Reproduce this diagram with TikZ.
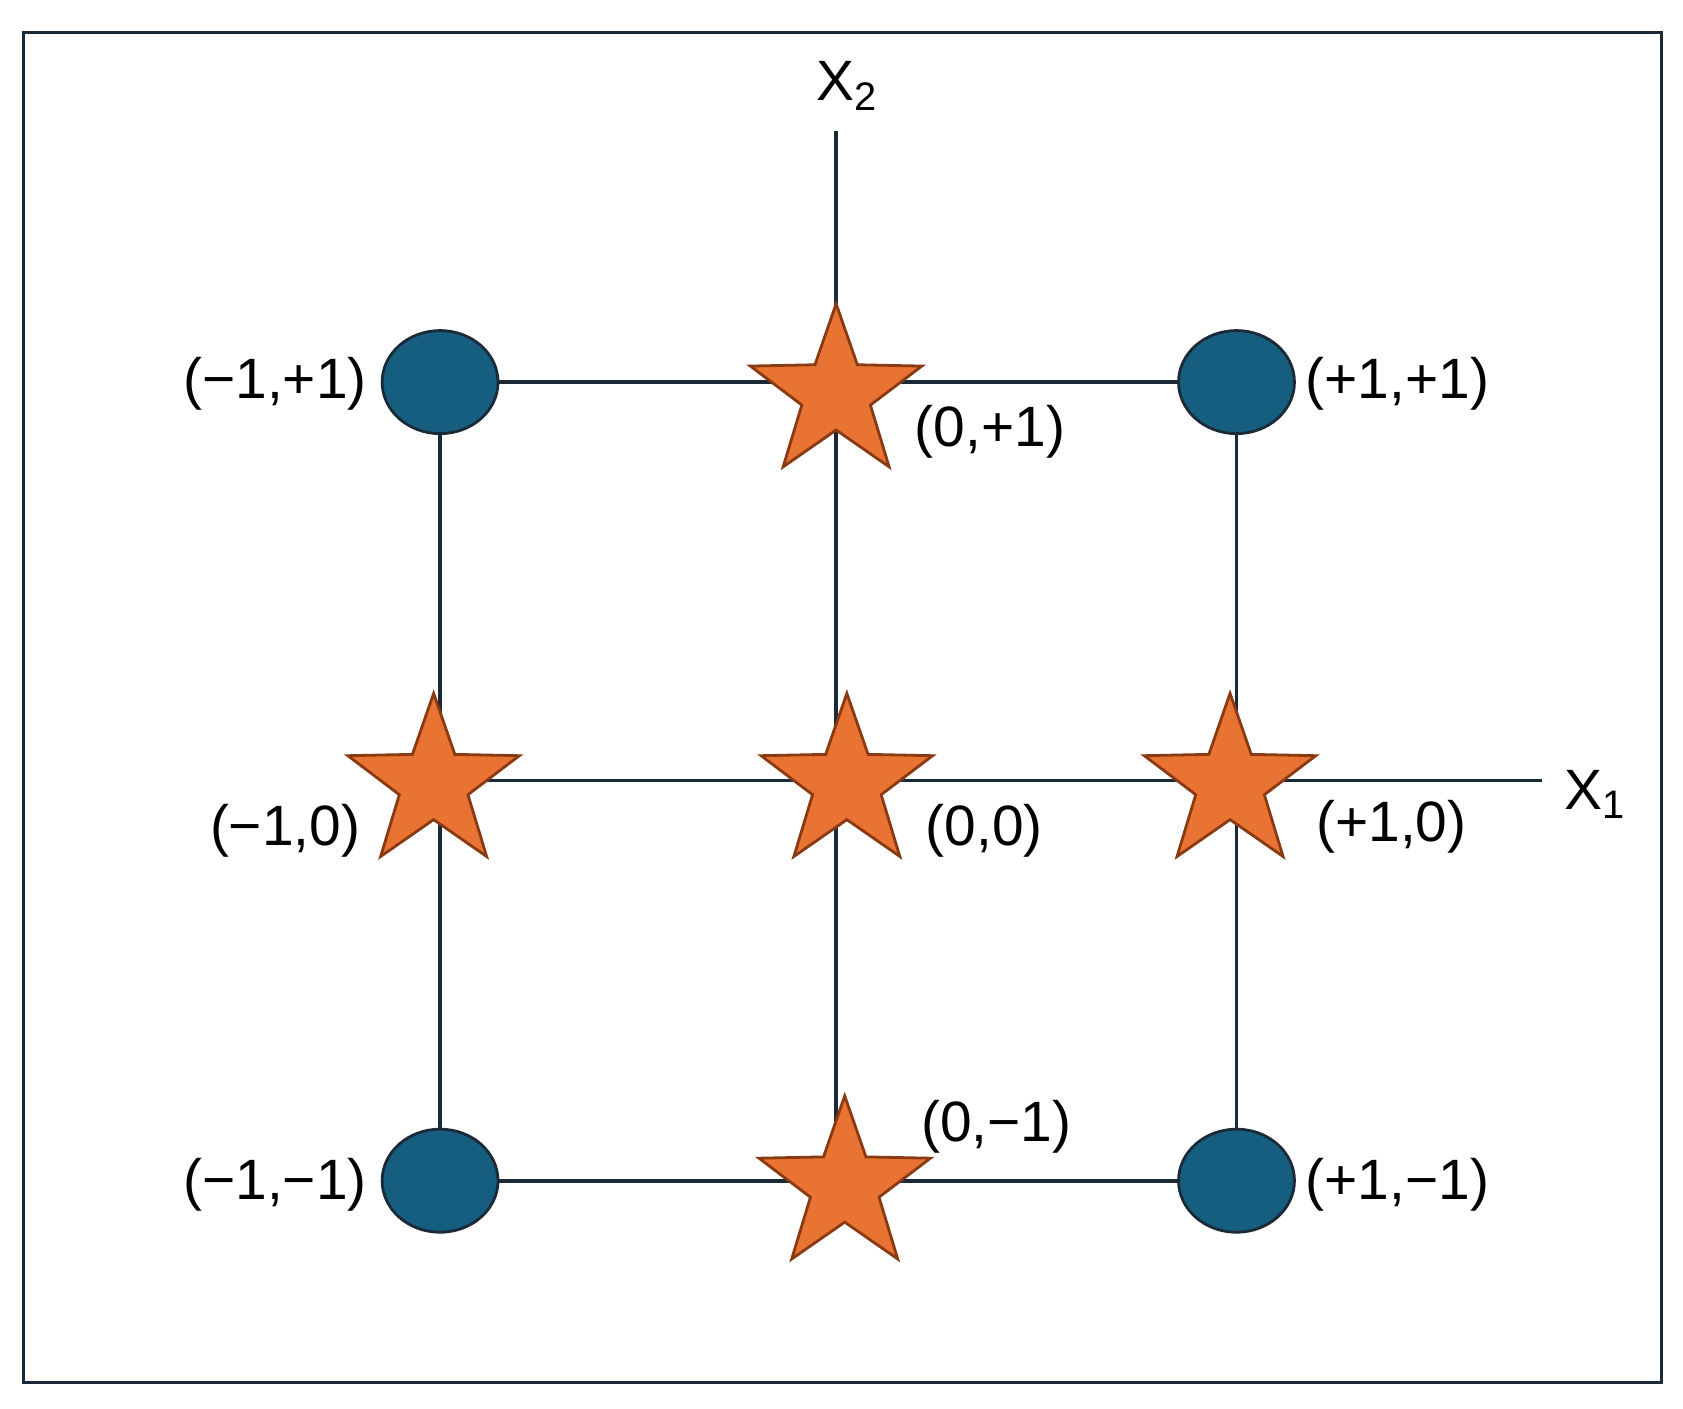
\documentclass[tikz,border=0pt]{standalone}
\usepackage{fontspec}
\setmainfont{Liberation Sans}
\usetikzlibrary{shapes.geometric}
\definecolor{dot}{HTML}{165E80}
\definecolor{starf}{HTML}{E87332}
\definecolor{stars}{HTML}{8A3A12}
\definecolor{ln}{HTML}{1A2A36}
\tikzset{
 pt/.style={ellipse,draw=ln,line width=1.3pt,fill=dot,minimum width=54pt,minimum height=48pt,inner sep=0pt},
 st/.style={star,star points=5,star point ratio=2.5,draw=stars,line width=1.3pt,fill=starf,minimum size=84pt,inner sep=0pt},
 lab/.style={font=\fontsize{26.5}{30}\selectfont,inner sep=0pt},
 gl/.style={draw=ln,line width=1.7pt}
}
\begin{document}
\begin{tikzpicture}[x=0.5pt,y=-0.5pt]
\useasboundingbox (0,0) rectangle (1568,1312);
\draw[line width=1.5pt,draw=ln] (22,30) rectangle (1548,1288);
\coordinate (top) at (779,122);
\coordinate (bot) at (779,1100);
\coordinate (xl) at (404,727);
\coordinate (xr) at (1437,727);
\coordinate (a) at (410,356); \coordinate (b) at (1152,356);
\coordinate (c) at (410,1100); \coordinate (d) at (1152,1100);
\draw[gl] (top) -- (bot);
\draw[gl] (xl) -- (xr);
\draw[gl] (a) -- (b) -- (d) -- (c) -- cycle;
\node[pt] (p1) at (a) {};
\node[pt] (p2) at (b) {};
\node[pt] (p3) at (c) {};
\node[pt] (p4) at (d) {};
\node[st] (s1) at (779,367) {};
\node[st] (s2) at (404,730) {};
\node[st] (s3) at (789,730) {};
\node[st] (s4) at (1146,730) {};
\node[st] (s5) at (787,1105) {};
\node[lab] (x2) at (789,80) {X\textsubscript{2}};
\node[lab,anchor=west] (x1) at (1457,740) {X\textsubscript{1}};
\node[lab,anchor=east] at (342,358) {(−1,+1)};
\node[lab,anchor=west] at (1216,358) {(+1,+1)};
\node[lab,anchor=west] at (852,402) {(0,+1)};
\node[lab,anchor=east] at (336,774) {(−1,0)};
\node[lab,anchor=west] at (862,774) {(0,0)};
\node[lab,anchor=west] at (1226,770) {(+1,0)};
\node[lab,anchor=east] at (342,1104) {(−1,−1)};
\node[lab,anchor=west] at (1216,1104) {(+1,−1)};
\node[lab,anchor=west] at (858,1050) {(0,−1)};
\end{tikzpicture}
\end{document}
